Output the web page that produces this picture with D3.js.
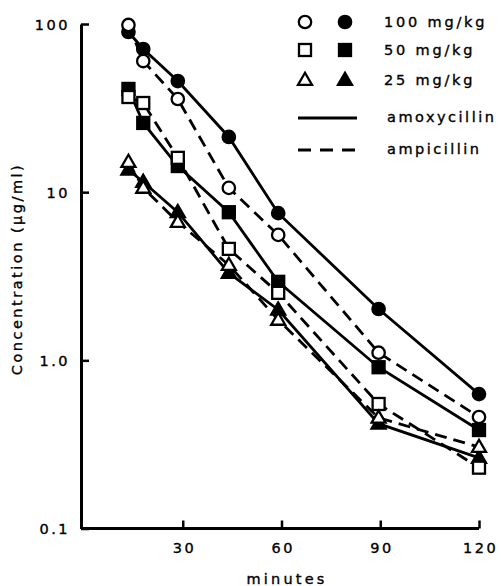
<!DOCTYPE html>
<html>
<head>
<meta charset="utf-8">
<script src="https://cdn.jsdelivr.net/npm/d3@7"></script>
<style>
  html, body { margin: 0; padding: 0; background: #fff; }
  svg { display: block; }
  text { font-family: "DejaVu Sans", sans-serif; fill: #000; stroke: #000; stroke-width: 0.35px; }
</style>
</head>
<body>
<svg id="chart" width="501" height="586"></svg>
<script>
// ---- data ----
const times = [13.5, 18, 28.5, 44, 59, 89.5, 120];
const amox100 = [89.6, 71, 45.8, 21.3, 7.5, 2.02, 0.63];
const amp100  = [98.7, 60.2, 35.8, 10.6, 5.57, 1.11, 0.46];
const amox50  = [41.1, 25.8, 14.3, 7.6, 2.93, 0.91, 0.385];
const amp50   = [36.8, 33.9, 16, 4.6, 2.52, 0.55, 0.23];
const amox25  = [13.6, 11.5, 7.6, 3.31, 2.0, 0.42, 0.263];
const amp25   = [15.1, 10.6, 6.65, 3.69, 1.74, 0.455, 0.305];
const xTicks = [30, 60, 90, 120];
const xTickLabels = ["30", "60", "90", "120"];
const yTicks = [0.1, 1, 10, 100];
const yTickLabels = ["0.1", "1.0", "10", "100"];
const doseLabels = ["100 mg/kg", "50 mg/kg", "25 mg/kg"];
const drugLabels = ["amoxycillin", "ampicillin"];
const xTitle = "minutes";
const yTitle = "Concentration (µg/ml)";

const series = [
  {values: amox100, shape: "circle", filled: true,  dashed: false},
  {values: amox50,  shape: "square", filled: true,  dashed: false},
  {values: amox25,  shape: "triangle", filled: true, dashed: false},
  {values: amp100,  shape: "circle", filled: false, dashed: true},
  {values: amp50,   shape: "square", filled: false, dashed: true},
  {values: amp25,   shape: "triangle", filled: false, dashed: true}
];

const svg = d3.select("#chart");
const x = d3.scaleLinear().domain([0, 120]).range([84, 479]);
const y = d3.scaleLog().domain([0.1, 100]).range([528.5, 24]);
const axisX = 81;

const LW = 2.8;
const DASH = "12,7";

// ---- axes ----
const yAxis = d3.axisLeft(y).tickValues(yTicks)
  .tickFormat((d, i) => yTickLabels[i]).tickSizeInner(-8).tickSizeOuter(0).tickPadding(11);
const gy = svg.append("g").attr("transform", `translate(${axisX},0)`).call(yAxis);
gy.select(".domain").attr("stroke-width", 3);
gy.selectAll(".tick line").attr("stroke-width", 2.5);
gy.selectAll(".tick text").attr("font-size", 14.5).attr("letter-spacing", "2.5px")
  .attr("font-family", "DejaVu Sans").attr("dy", "0.36em");

const xAxis = d3.axisBottom(x).tickValues(xTicks)
  .tickFormat((d, i) => xTickLabels[i]).tickSizeInner(-8).tickSizeOuter(0).tickPadding(14);
const gx = svg.append("g").attr("transform", `translate(0,${y(0.1)})`).call(xAxis);
gx.select(".domain").remove();
gx.append("line").attr("x1", axisX).attr("x2", x(120)).attr("y1", 0).attr("y2", 0)
  .attr("stroke", "#000").attr("stroke-width", 3);
gx.selectAll(".tick line").attr("stroke-width", 2.5);
gx.selectAll(".tick text").attr("font-size", 14.5).attr("letter-spacing", "2.5px")
  .attr("font-family", "DejaVu Sans").attr("dx", "1.2px");

svg.append("text").attr("x", 287).attr("y", 584).attr("text-anchor", "middle")
  .attr("font-size", 14.5).attr("letter-spacing", "3.2px").text(xTitle);

svg.append("text").attr("transform", "translate(22,269) rotate(-90)")
  .attr("text-anchor", "middle").attr("font-size", 14.5).attr("letter-spacing", "2.5px")
  .text(yTitle);

// ---- lines ----
const line = d3.line().x((d, i) => x(times[i])).y(d => y(d));
series.forEach(s => {
  svg.append("path").datum(s.values).attr("d", line)
    .attr("fill", "none").attr("stroke", "#000").attr("stroke-width", LW)
    .attr("stroke-dasharray", s.dashed ? DASH : null);
});

// ---- markers ----
function marker(g, shape, filled, cx, cy) {
  const fill = filled ? "#000" : "#fff";
  if (shape === "circle") {
    g.append("circle").attr("cx", cx).attr("cy", cy).attr("r", 6.2)
      .attr("fill", fill).attr("stroke", "#000").attr("stroke-width", 2.3);
  } else if (shape === "square") {
    g.append("rect").attr("x", cx - 6).attr("y", cy - 6).attr("width", 12).attr("height", 12)
      .attr("fill", fill).attr("stroke", "#000").attr("stroke-width", 2.3);
  } else {
    const s = 14, h = s * Math.sqrt(3) / 2;
    const pts = [[cx, cy - h * 0.6], [cx - s / 2, cy + h * 0.4], [cx + s / 2, cy + h * 0.4]];
    g.append("polygon").attr("points", pts.map(p => p.join(",")).join(" "))
      .attr("fill", fill).attr("stroke", "#000").attr("stroke-width", 2.3)
      .attr("stroke-linejoin", "miter");
  }
}
const gm = svg.append("g");
series.forEach(s => {
  s.values.forEach((v, i) => marker(gm, s.shape, s.filled, x(times[i]), y(v)));
});

// ---- legend ----
const lg = svg.append("g");
const rowY = [22, 50, 80];
const shapes = ["circle", "square", "triangle"];
rowY.forEach((ry, i) => {
  marker(lg, shapes[i], false, 305, ry);
  marker(lg, shapes[i], true, 345, ry);
  lg.append("text").attr("x", 384).attr("y", ry).attr("dy", "0.36em")
    .attr("font-size", 14.5).attr("letter-spacing", "2.8px").text(doseLabels[i]);
});
const lineRows = [118, 150];
lineRows.forEach((ry, i) => {
  lg.append("line").attr("x1", 298).attr("x2", 357).attr("y1", ry).attr("y2", ry)
    .attr("stroke", "#000").attr("stroke-width", LW)
    .attr("stroke-dasharray", i === 1 ? "13,9" : null);
  lg.append("text").attr("x", 387).attr("y", ry - 1).attr("dy", "0.36em")
    .attr("font-size", 14.5).attr("letter-spacing", "2.5px").text(drugLabels[i]);
});
</script>
</body>
</html>
